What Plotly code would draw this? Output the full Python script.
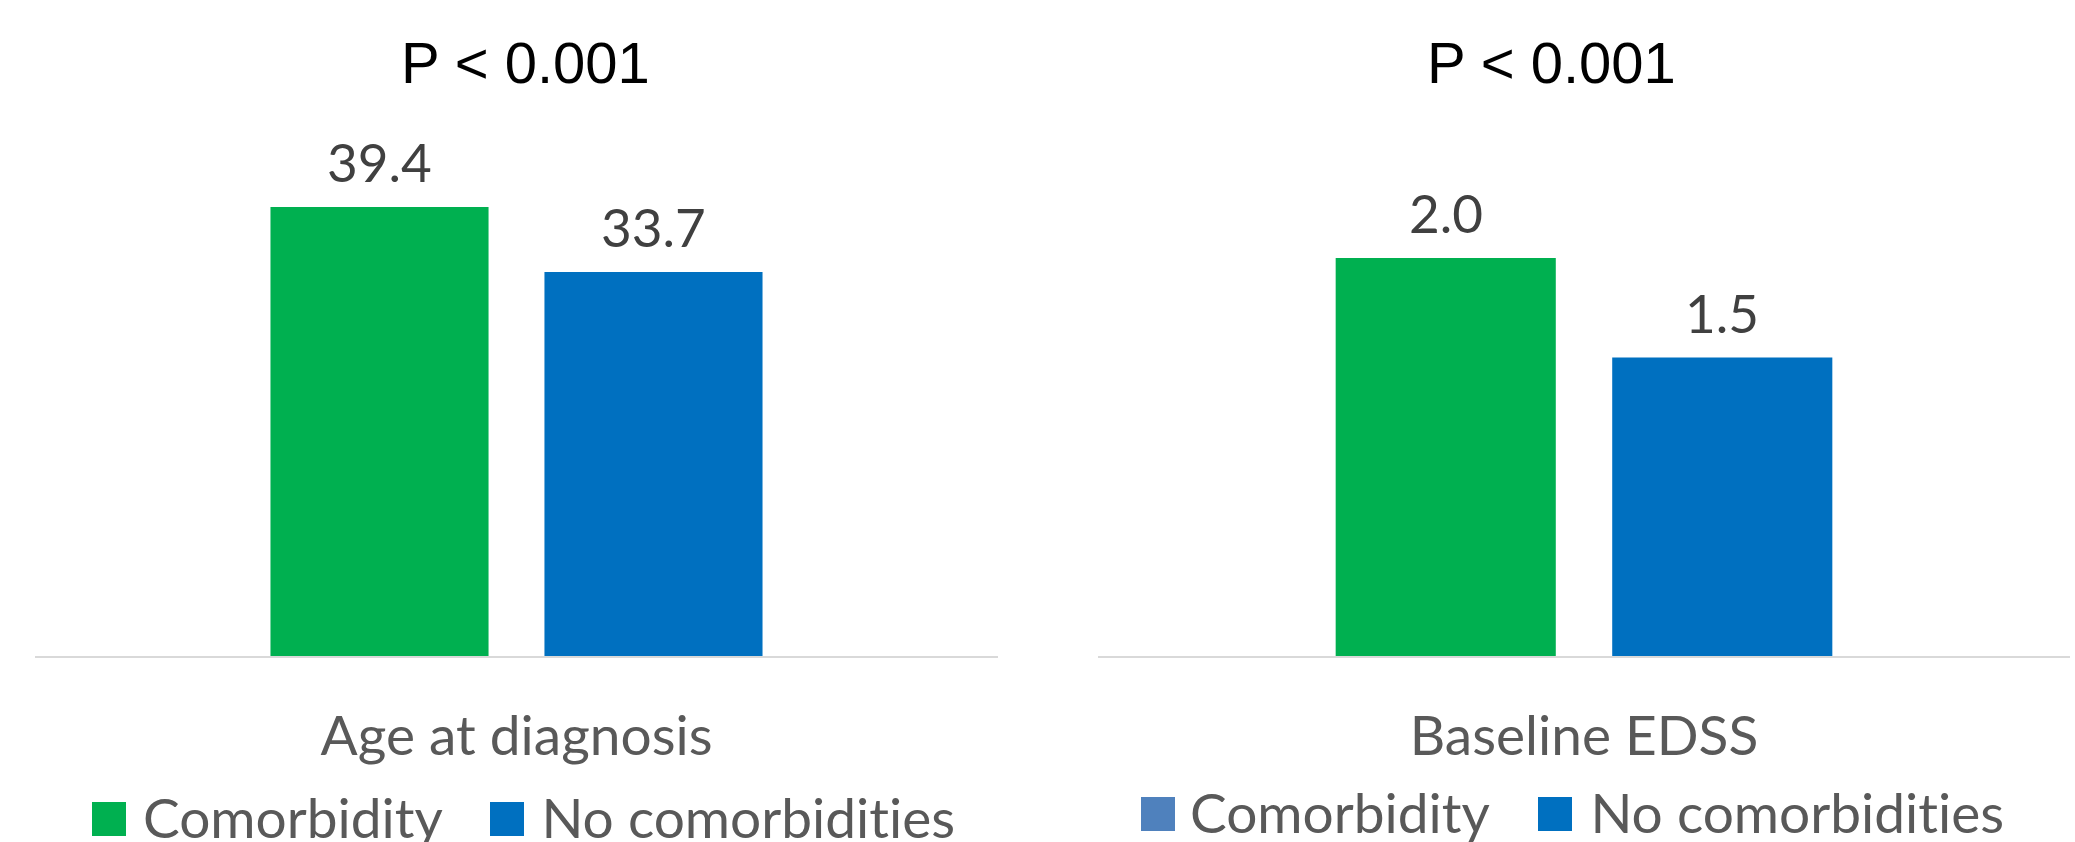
import plotly.graph_objects as go

W, H = 2075, 842

# Data
groups = ["Comorbidity", "No comorbidities"]
age_category = ["Age at diagnosis"]
age_values = [39.4, 33.7]
edss_category = ["Baseline EDSS"]
edss_values = [2.0, 1.5]
p_value_labels = ["P < 0.001", "P < 0.001"]

bar_colors = ["#00B050", "#0070C0"]
legend_colors_left = ["#00B050", "#0070C0"]
legend_colors_right = ["#4F81BD", "#0070C0"]

LABEL_FONT = "Lato, Carlito, Calibri, sans-serif"
TITLE_FONT = "Liberation Sans, Arial, sans-serif"
GREY = "#595959"


def fx(px):
    return px / W


def fy(px):
    return 1 - px / H


fig = go.Figure()

# (categories, values, x axis, y axis, half bar-slot width in px)
panels = [
    (age_category, age_values, "x", "y", 137),
    (edss_category, edss_values, "x2", "y2", 138),
]
for cats, vals, xa, ya, half_slot in panels:
    for i, (name, val, color) in enumerate(zip(groups, vals, bar_colors)):
        fig.add_trace(go.Bar(
            name=name,
            x=cats,
            y=[val],
            xaxis=xa,
            yaxis=ya,
            marker=dict(color=color, line=dict(width=0)),
            showlegend=False,
            hoverinfo="skip",
        ))
        # value label above each bar
        fig.add_annotation(
            text=f"{val:.1f}", xref=xa, yref=ya, x=cats[0], y=val,
            xshift=(-half_slot if i == 0 else half_slot), yshift=12,
            xanchor="center", yanchor="bottom", showarrow=False,
            font=dict(family=LABEL_FONT, size=53, color="#404040"),
        )

axis_common = dict(
    type="category",
    showline=True,
    linecolor="#D9D9D9",
    linewidth=1.5,
    showgrid=False,
    zeroline=False,
    ticks="",
    ticklabelstandoff=31,
    tickfont=dict(family=LABEL_FONT, size=55, color=GREY),
    fixedrange=True,
)
yaxis_common = dict(visible=False, showgrid=False, zeroline=False, fixedrange=True)

base_px = 656
fig.update_layout(
    width=W,
    height=H,
    margin=dict(l=0, r=0, t=0, b=0),
    paper_bgcolor="white",
    plot_bgcolor="white",
    barmode="group",
    bargap=0.431,
    bargroupgap=0.204,
    xaxis=dict(axis_common, domain=[fx(35), fx(998)], anchor="y"),
    yaxis=dict(yaxis_common, domain=[fy(base_px), fy(base_px - 45 * 11.396)],
               range=[0, 45], anchor="x"),
    xaxis2=dict(axis_common, domain=[fx(1098), fx(2070)], anchor="y2"),
    yaxis2=dict(yaxis_common, domain=[fy(base_px), fy(base_px - 2.5 * 199)],
                range=[0, 2.5], anchor="x2"),
)

# Panel headings with the p-values
for label, cx in zip(p_value_labels, [525, 1551]):
    fig.add_annotation(
        text=label, xref="paper", yref="paper", x=fx(cx), y=fy(62),
        xanchor="center", yanchor="middle", showarrow=False,
        font=dict(family=TITLE_FONT, size=58, color="#000000"),
    )

# Legend keys drawn under each panel
legend_items = [
    # (square left px, square top px, text left px, text center px, colours)
    ([92, 490], 802, [141, 539], 817, legend_colors_left),
    ([1141, 1538], 797, [1188, 1588], 812, legend_colors_right),
]
for sq_lefts, sq_top, txt_lefts, txt_mid, colors in legend_items:
    for sx, tx, name, color in zip(sq_lefts, txt_lefts, groups, colors):
        fig.add_shape(
            type="rect", xref="paper", yref="paper",
            x0=fx(sx), x1=fx(sx + 34), y0=fy(sq_top + 34), y1=fy(sq_top),
            fillcolor=color, line=dict(width=0),
        )
        fig.add_annotation(
            text=name, xref="paper", yref="paper", x=fx(tx), y=fy(txt_mid),
            xanchor="left", yanchor="middle", showarrow=False,
            font=dict(family=LABEL_FONT, size=55, color=GREY),
        )

# keep letter pairs such as "ti" as separate glyphs
no_ligatures = (
    "var s = document.createElement('style');"
    "s.textContent = 'svg text, svg tspan { font-variant-ligatures: none !important;"
    " font-feature-settings: \"liga\" 0, \"clig\" 0, \"dlig\" 0 !important; }';"
    "document.head.appendChild(s);"
)

fig.write_html("out.html", post_script=no_ligatures)
